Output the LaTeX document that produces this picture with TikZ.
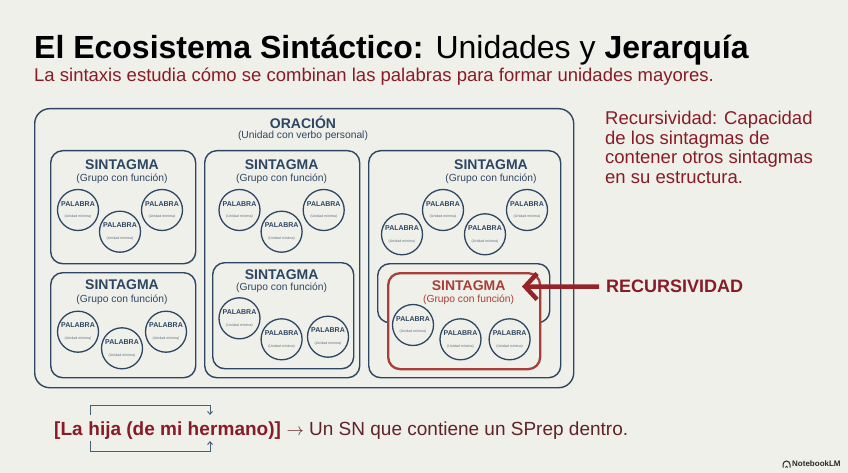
\documentclass[tikz,border=0pt]{standalone}
\usepackage{fontspec}
\setmainfont{Liberation Sans}
\usetikzlibrary{arrows.meta}
\definecolor{bg}{RGB}{240,240,235}
\definecolor{navy}{RGB}{45,70,98}
\definecolor{dred}{RGB}{135,28,38}
\definecolor{arrred}{RGB}{150,35,40}
\definecolor{boxred}{RGB}{168,62,58}
\definecolor{subgray}{RGB}{95,110,125}
\definecolor{txtdark}{RGB}{95,35,40}
\definecolor{brk}{RGB}{70,95,120}
\definecolor{logodark}{RGB}{40,40,40}
\newcommand{\palw}{{\fontsize{7}{7}\selectfont\bfseries PALABRA}\\[-0.5pt]{\fontsize{3.6}{4}\selectfont\color{subgray}(Unidad mínima)}}
\begin{document}
\begin{tikzpicture}[x=1pt,y=-1pt,
  box/.style={draw=navy, line width=1.4pt, rounded corners=12pt, fill=bg, anchor=north west, inner sep=0pt},
  redbox/.style={draw=boxred, line width=2.3pt, rounded corners=12pt, fill=bg, anchor=north west, inner sep=0pt},
  word/.style={circle, draw=navy, line width=1.3pt, minimum size=41pt, inner sep=0pt, fill=bg, align=center, text=navy},
  ttl/.style={font=\fontsize{14}{14}\selectfont\bfseries, text=navy, inner sep=0pt},
  sub/.style={font=\fontsize{10.3}{11}\selectfont, text=navy, inner sep=0pt},
  brkline/.style={draw=brk, line width=0.9pt},
]
\useasboundingbox (0,0) rectangle (848,473);
\fill[bg] (0,0) rectangle (848,473);

% Title and subtitle
\node[anchor=base west, inner sep=0pt, font=\fontsize{32}{32}\selectfont, text=black] (title) at (34,59)
  {{\bfseries El Ecosistema Sintáctico:} Unidades y {\bfseries Jerarquía}};
\node[anchor=base west, inner sep=0pt, font=\fontsize{18.5}{18.5}\selectfont, text=dred] (subtitle) at (34,82)
  {La sintaxis estudia cómo se combinan las palabras para formar unidades mayores.};

% Outer box
\node[box, rounded corners=15pt, minimum width=539pt, minimum height=279pt] (orac) at (34,108) {};
\node[ttl] (oract) at (303,122.7) {ORACIÓN};
\node[sub] (oracs) at (303,135.7) {(Unidad con verbo personal)};

% Box 1
\node[box, minimum width=145pt, minimum height=113pt] (sg1) at (50,150) {};
\node[ttl] (sg1t) at (122,164.5) {SINTAGMA};
\node[sub] (sg1s) at (122,178.4) {(Grupo con función)};
\node[word] (w11) at (78,210) {\palw};
\node[word] (w12) at (162,210) {\palw};
\node[word] (w13) at (120,231.7) {\palw};

% Box 2
\node[box, minimum width=145pt, minimum height=105pt] (sg2) at (50,272) {};
\node[ttl] (sg2t) at (122,285) {SINTAGMA};
\node[sub] (sg2s) at (122,299.3) {(Grupo con función)};
\node[word] (w21) at (78,331.7) {\palw};
\node[word] (w22) at (166,331.7) {\palw};
\node[word] (w23) at (122,348.3) {\palw};

% Box 3 and nested box 4
\node[box, minimum width=155pt, minimum height=227pt] (sg3) at (204,150) {};
\node[ttl] (sg3t) at (281.6,164.5) {SINTAGMA};
\node[sub] (sg3s) at (281.6,178.4) {(Grupo con función)};
\node[word] (w31) at (239.5,210) {\palw};
\node[word] (w32) at (323.7,210) {\palw};
\node[word] (w33) at (281.6,231.7) {\palw};
\node[box, minimum width=141pt, minimum height=106pt] (sg4) at (212,262) {};
\node[ttl] (sg4t) at (281.6,274.3) {SINTAGMA};
\node[sub] (sg4s) at (281.6,287.7) {(Grupo con función)};
\node[word] (w41) at (239.5,318.3) {\palw};
\node[word] (w42) at (281.6,339.3) {\palw};
\node[word] (w43) at (328,336.7) {\palw};

% Box 5, nested blue box 6 and red box
\node[box, minimum width=192pt, minimum height=227pt] (sg5) at (368,150) {};
\node[ttl] (sg5t) at (491,164.5) {SINTAGMA};
\node[sub] (sg5s) at (491,178.4) {(Grupo con función)};
\node[word] (w51) at (402,234.3) {\palw};
\node[word] (w52) at (443,210) {\palw};
\node[word] (w53) at (485,234.3) {\palw};
\node[word] (w54) at (527,210) {\palw};
\node[box, minimum width=172pt, minimum height=59pt] (sg6) at (377,263) {};
\node[redbox, minimum width=152pt, minimum height=96pt] (sgr) at (387,272) {};
\node[ttl, text=boxred] (sgrt) at (468.6,285.7) {SINTAGMA};
\node[sub, text=boxred] (sgrs) at (468.6,299.3) {(Grupo con función)};
\node[word] (wr1) at (413,325) {\palw};
\node[word] (wr2) at (460.5,339.3) {\palw};
\node[word] (wr3) at (509.6,339.3) {\palw};

% Right-hand text
\node[anchor=north west, inner sep=0pt, align=left, text=dred, font=\fontsize{18.5}{19.5}\selectfont] (def) at (605,111)
  {Recursividad: Capacidad\\de los sintagmas de\\contener otros sintagmas\\en su estructura.};

% RECURSIVIDAD label and arrow
\node[anchor=base west, inner sep=0pt, text=dred, font=\fontsize{18}{18}\selectfont\bfseries] (rec) at (606,292.7) {RECURSIVIDAD};
\coordinate (rtip) at (522,286.5);
\draw[arrred, line width=4.5pt, -{Straight Barb[length=12pt,width=26pt]}] ([xshift=-7pt]rec.west) -- (rtip);

% Bottom example
\node[anchor=base west, inner sep=0pt, text=dred, font=\fontsize{19}{19}\selectfont\bfseries] (b1) at (54,435) {[La\kern0.28em};
\node[anchor=base west, inner sep=0pt, text=dred, font=\fontsize{19}{19}\selectfont\bfseries] (b2) at (b1.base east) {hija (de mi he};
\node[anchor=base west, inner sep=0pt, text=dred, font=\fontsize{19}{19}\selectfont\bfseries] (b3) at (b2.base east) {rmano)]};
\node[anchor=base west, inner sep=0pt, text=txtdark, font=\fontsize{19}{19}\selectfont] (b4) at (b3.base east) {\ $\rightarrow$ Un SN que contiene un SPrep dentro.};

\coordinate (tl0) at ([xshift=2pt]b2.west |- 0,415);
\coordinate (tl1) at ([xshift=2pt]b2.west |- 0,405);
\coordinate (tr1) at (b3.west |- 0,405);
\coordinate (tr0) at (b3.west |- 0,415);
\coordinate (bl0) at ([xshift=2pt]b2.west |- 0,441);
\coordinate (bl1) at ([xshift=2pt]b2.west |- 0,451);
\coordinate (br1) at (b3.west |- 0,451);
\coordinate (br0) at (b3.west |- 0,441);
\draw[brkline, -{Straight Barb[length=3pt,width=5pt]}] (tl0) -- (tl1) -- (tr1) -- (tr0);
\draw[brkline, -{Straight Barb[length=3pt,width=5pt]}] (bl0) -- (bl1) -- (br1) -- (br0);

% NotebookLM mark
\node[anchor=west, inner sep=0pt, text=logodark, font=\fontsize{8}{8}\selectfont\bfseries] (nlm) at (792,464) {NotebookLM};
\draw[line width=1pt, logodark] (783,467.5) -- (783,464.5) arc[start angle=180, end angle=360, radius=3.5] -- (790,467.5);
\draw[line width=0.8pt, logodark] (785.3,467.5) arc[start angle=180, end angle=360, radius=1.2];
\end{tikzpicture}
\end{document}
